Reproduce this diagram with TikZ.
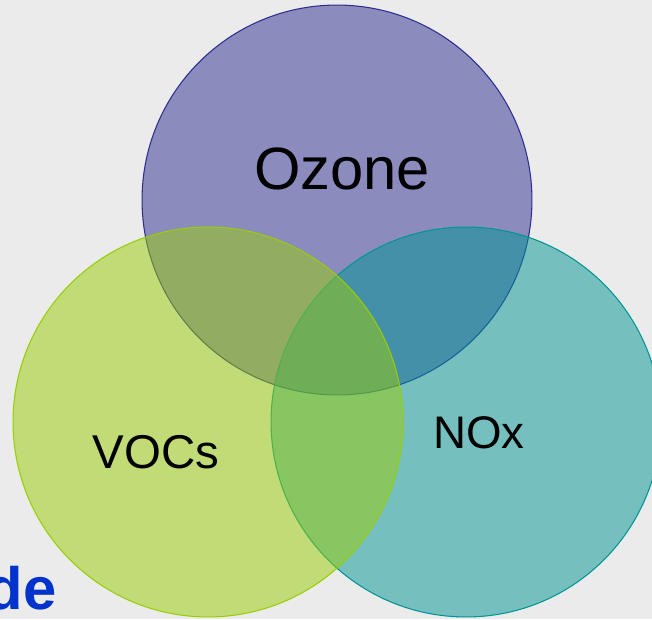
\documentclass[tikz,border=0pt]{standalone}
\usepackage{fontspec}
\setmainfont{Liberation Sans}
\definecolor{bg_grey}{RGB}{235,235,235}
\definecolor{oz_blue}{RGB}{45,45,147}
\definecolor{voc_green}{RGB}{153,205,5}
\definecolor{nox_teal}{RGB}{0,149,149}
\definecolor{title_blue}{RGB}{0,51,204}
\tikzstyle{venn}=[circle,inner sep=0pt,minimum size=7.8cm,
  fill opacity=0.5,line width=0.6pt]
\tikzstyle{ozc}=[venn,fill=oz_blue,draw=oz_blue]
\tikzstyle{vocc}=[venn,fill=voc_green,draw=voc_green]
\tikzstyle{noxc}=[venn,fill=nox_teal,draw=nox_teal]
\tikzstyle{lbl}=[anchor=base,inner sep=0pt]

\begin{document}
\begin{tikzpicture}[x=0.02cm,y=-0.02cm]
        \clip (0,0) rectangle (652,619);
        \useasboundingbox (0,0) rectangle (652,619);
        \fill[bg_grey] (0,0) rectangle (652,619);
        \node [style=ozc] (oz) at (337,200) {};
        \node [style=noxc] (nox) at (466,422) {};
        \node [style=vocc] (voc) at (208,422) {};
        \node [style=lbl,font=\fontsize{34}{40}\selectfont] (ozt) at (342,189) {Ozone};
        \node [style=lbl,font=\fontsize{27}{32}\selectfont] (voct) at (156,468) {VOCs};
        \node [style=lbl,font=\fontsize{26}{31}\selectfont] (noxt) at (479,448) {NOx};
        \node [anchor=base east,inner sep=0pt,text=title_blue,
          font=\bfseries\fontsize{34}{40}\selectfont] (ttl) at (57,609) {de};
    \end{tikzpicture}
\end{document}
